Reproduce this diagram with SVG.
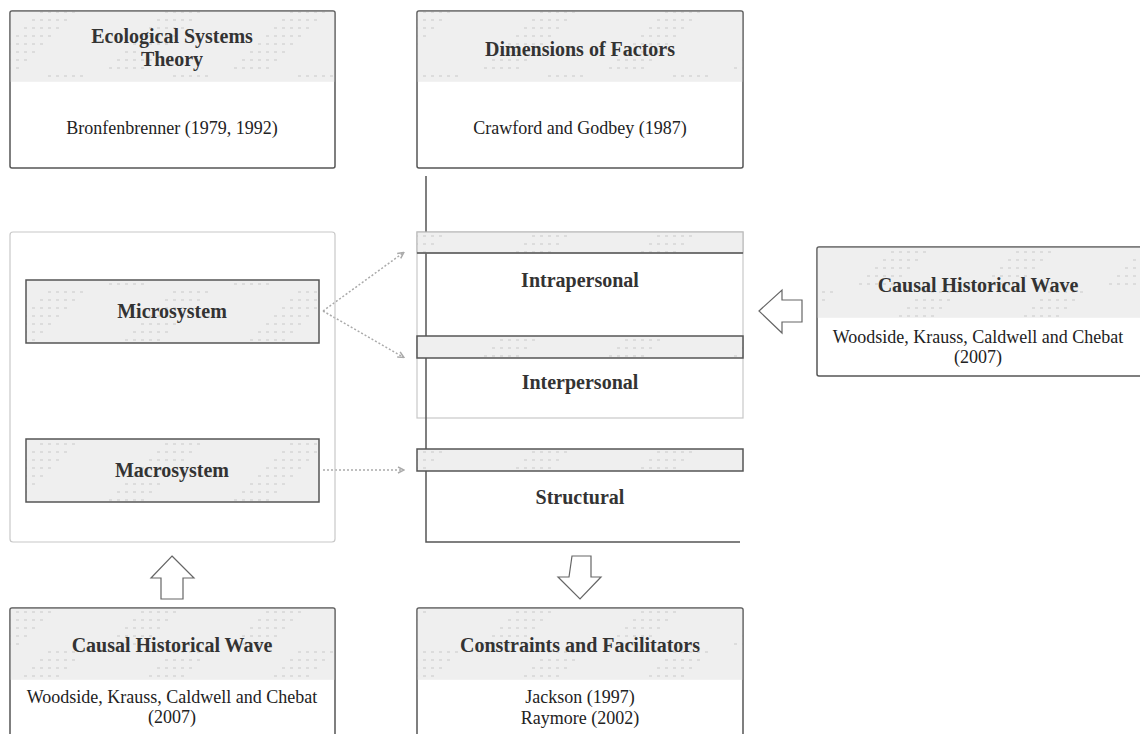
<svg xmlns="http://www.w3.org/2000/svg" width="1140" height="734" viewBox="0 0 1140 734">
  <style>
    .title { font-family: 'Liberation Serif', 'DejaVu Serif', serif; font-weight: bold; font-size: 20px; fill: #333; text-anchor: middle; }
    .body { font-family: 'Liberation Serif', 'DejaVu Serif', serif; font-size: 18px; fill: #222; text-anchor: middle; }
    .card { fill: #fff; stroke: #555; stroke-width: 1.5; }
    .head { fill: url(#dots); }
    .frame { fill: none; stroke: #c8c8c8; stroke-width: 1.2; }
    .bar { fill: url(#dots); stroke: #555; stroke-width: 1.5; }
    .axis { fill: none; stroke: #555; stroke-width: 1.5; }
    .link { fill: none; stroke: #aaa; stroke-width: 1.5; stroke-dasharray: 2 2; }
    .block { fill: #fff; stroke: #666; stroke-width: 1.2; }
  </style>
  <defs>
    <!-- faint staircase texture used on header bands -->
    <pattern id="dots" patternUnits="userSpaceOnUse" x="0" y="0" width="125" height="72">
      <rect width="125" height="72" fill="#efefef"/>
      <g fill="#dcdcdc">
        <rect x="48" y="3" width="3" height="2"/><rect x="56" y="3" width="3" height="2"/><rect x="64" y="3" width="3" height="2"/><rect x="72" y="3" width="3" height="2"/><rect x="80" y="3" width="3" height="2"/>
        <rect x="40" y="11" width="3" height="2"/><rect x="48" y="11" width="3" height="2"/><rect x="56" y="11" width="3" height="2"/><rect x="64" y="11" width="3" height="2"/><rect x="72" y="11" width="3" height="2"/>
        <rect x="32" y="19" width="3" height="2"/><rect x="40" y="19" width="3" height="2"/><rect x="48" y="19" width="3" height="2"/><rect x="56" y="19" width="3" height="2"/><rect x="64" y="19" width="3" height="2"/>
        <rect x="24" y="27" width="3" height="2"/><rect x="32" y="27" width="3" height="2"/><rect x="40" y="27" width="3" height="2"/><rect x="48" y="27" width="3" height="2"/><rect x="56" y="27" width="3" height="2"/>
        <rect x="16" y="35" width="3" height="2"/><rect x="24" y="35" width="3" height="2"/><rect x="32" y="35" width="3" height="2"/><rect x="40" y="35" width="3" height="2"/><rect x="48" y="35" width="3" height="2"/>
        <rect x="8" y="43" width="3" height="2"/><rect x="16" y="43" width="3" height="2"/><rect x="24" y="43" width="3" height="2"/><rect x="32" y="43" width="3" height="2"/><rect x="40" y="43" width="3" height="2"/>
        <rect x="0" y="51" width="3" height="2"/><rect x="8" y="51" width="3" height="2"/><rect x="16" y="51" width="3" height="2"/><rect x="24" y="51" width="3" height="2"/><rect x="32" y="51" width="3" height="2"/>
        <rect x="117" y="59" width="3" height="2"/><rect x="0" y="59" width="3" height="2"/><rect x="8" y="59" width="3" height="2"/><rect x="16" y="59" width="3" height="2"/><rect x="24" y="59" width="3" height="2"/>
        <rect x="109" y="67" width="3" height="2"/><rect x="117" y="67" width="3" height="2"/><rect x="0" y="67" width="3" height="2"/><rect x="8" y="67" width="3" height="2"/><rect x="16" y="67" width="3" height="2"/>
      </g>
    </pattern>
    <marker id="tip" markerWidth="8" markerHeight="8" refX="6" refY="4" orient="auto" markerUnits="userSpaceOnUse">
      <path d="M1,1 L7,4 L1,7" fill="none" stroke="#aaa" stroke-width="1.5"/>
    </marker>
  </defs>

  <!-- connectors -->
  <g id="connectors">
    <path class="link" d="M323,311 L403,253" marker-end="url(#tip)"/>
    <path class="link" d="M323,311 L403,357" marker-end="url(#tip)"/>
    <path class="link" d="M323,470 L403,470" marker-end="url(#tip)"/>
    <!-- hollow block arrows -->
    <path class="block" d="M172,556 L194,578 L183,578 L183,599 L161,599 L161,578 L151,578 Z"/>
    <path class="block" d="M572,556 L591,556 L591,577 L601,577 L580,599 L558,577 L569,577 Z"/>
    <path class="block" d="M759,311 L782,290 L782,300 L802,300 L802,322 L782,322 L782,333 Z"/>
  </g>

  <!-- Ecological Systems Theory -->
  <g id="ecological">
    <rect class="card" x="10" y="11" width="325" height="157" rx="2"/>
    <rect class="head" x="10.8" y="11.8" width="323.4" height="70"/>
    <text class="title" x="172" y="43">Ecological Systems</text>
    <text class="title" x="172" y="66">Theory</text>
    <text class="body" x="172" y="134">Bronfenbrenner (1979, 1992)</text>
  </g>

  <!-- Dimensions of Factors -->
  <g id="dimensions">
    <rect class="card" x="417" y="11" width="326" height="157" rx="2"/>
    <rect class="head" x="417.8" y="11.8" width="324.4" height="70"/>
    <text class="title" x="580" y="56">Dimensions of Factors</text>
    <text class="body" x="580" y="134">Crawford and Godbey (1987)</text>
  </g>

  <!-- Ecological systems container -->
  <g id="systems">
    <rect class="frame" x="10" y="232" width="325" height="310" rx="3"/>
  </g>
  <g id="microsystem">
    <rect class="bar" x="26" y="280" width="293" height="63"/>
    <text class="title" x="172" y="318">Microsystem</text>
  </g>
  <g id="macrosystem">
    <rect class="bar" x="26" y="439" width="293" height="63"/>
    <text class="title" x="172" y="477">Macrosystem</text>
  </g>

  <!-- Factor dimensions -->
  <g id="factors">
    <rect class="frame" x="417" y="232" width="326" height="186"/>
    <path class="axis" d="M426,176 L426,542 L740,542"/>
  </g>
  <g id="intrapersonal">
    <rect x="417" y="232" width="326" height="21" fill="url(#dots)" stroke="#bbb" stroke-width="1.2"/>
    <line x1="417" y1="253" x2="743" y2="253" stroke="#555" stroke-width="1.5"/>
    <text class="title" x="580" y="287">Intrapersonal</text>
  </g>
  <g id="interpersonal">
    <rect class="bar" x="417" y="336" width="326" height="22"/>
    <text class="title" x="580" y="389">Interpersonal</text>
  </g>
  <g id="structural">
    <rect class="bar" x="417" y="449" width="326" height="22"/>
    <text class="title" x="580" y="504">Structural</text>
  </g>

  <!-- Causal Historical Wave (right) -->
  <g id="wave-right">
    <rect class="card" x="817" y="247" width="330" height="129" rx="2"/>
    <rect class="head" x="817.8" y="247.8" width="330" height="70"/>
    <text class="title" x="978" y="292">Causal Historical Wave</text>
    <text class="body" x="978" y="343">Woodside, Krauss, Caldwell and Chebat</text>
    <text class="body" x="978" y="363">(2007)</text>
  </g>

  <!-- Causal Historical Wave (bottom) -->
  <g id="wave-bottom">
    <rect class="card" x="10" y="608" width="325" height="140" rx="2"/>
    <rect class="head" x="10.8" y="608.8" width="323.4" height="71"/>
    <text class="title" x="172" y="652">Causal Historical Wave</text>
    <text class="body" x="172" y="703">Woodside, Krauss, Caldwell and Chebat</text>
    <text class="body" x="172" y="723">(2007)</text>
  </g>

  <!-- Constraints and Facilitators -->
  <g id="constraints">
    <rect class="card" x="417" y="608" width="326" height="140" rx="2"/>
    <rect class="head" x="417.8" y="608.8" width="324.4" height="71"/>
    <text class="title" x="580" y="652">Constraints and Facilitators</text>
    <text class="body" x="580" y="703">Jackson (1997)</text>
    <text class="body" x="580" y="724">Raymore (2002)</text>
  </g>
</svg>
